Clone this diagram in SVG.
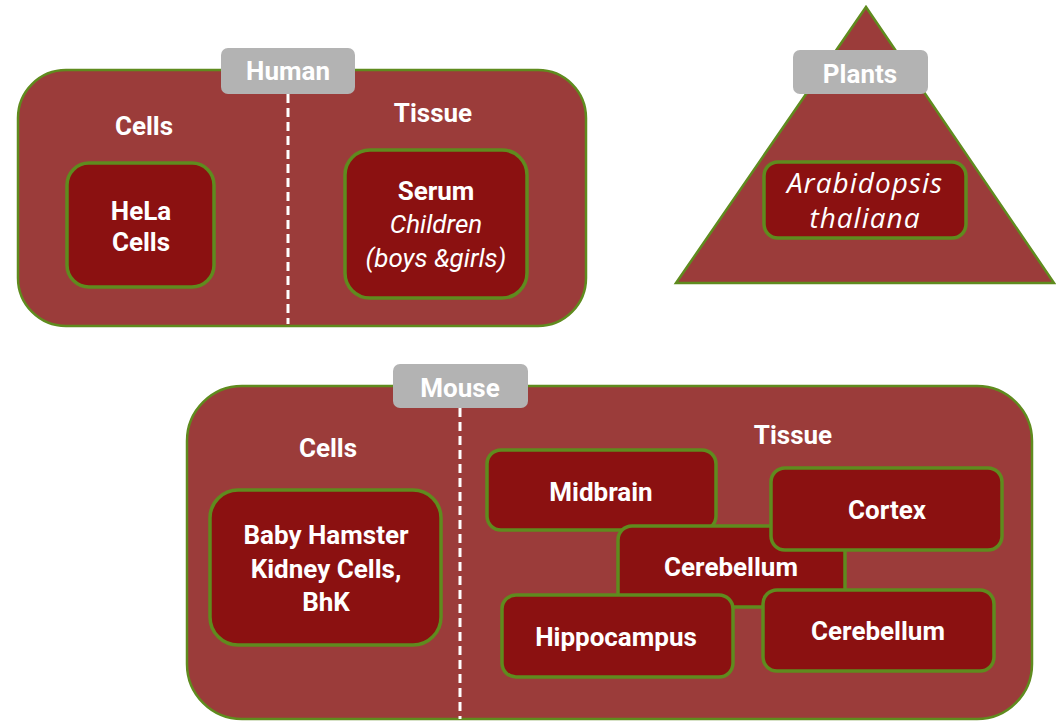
<svg xmlns="http://www.w3.org/2000/svg" width="1056" height="721" viewBox="0 0 1056 721">
<style>
.outer{fill:#9b3c3a;stroke:#5f8b1e;stroke-width:2.5}
.inner{fill:#8b1111;stroke:#5f8b1e;stroke-width:3.5}
.lab{fill:#b3b3b3}
.div{stroke:#ffffff;stroke-width:3;stroke-dasharray:9 5;fill:none}
text{font-family:Roboto,"Liberation Sans",sans-serif;font-weight:bold;font-size:26px;fill:#ffffff;text-anchor:middle}
.it{font-style:italic;font-weight:normal}
.os{font-family:"Open Sans","Noto Sans",sans-serif;font-style:italic;font-weight:normal;font-size:28px;letter-spacing:1px}
</style>
<rect width="1056" height="721" fill="#ffffff"/>
<g id="human">
<rect class="outer" x="18" y="70" width="568" height="256" rx="48"/>
<line class="div" x1="288" y1="94" x2="288" y2="324"/>
<rect class="lab" x="221" y="48" width="134" height="46" rx="7"/>
<text x="288" y="80">Human</text>
<text x="144" y="135">Cells</text>
<text x="433" y="122">Tissue</text>
</g>
<g id="hela">
<rect class="inner" x="67" y="163" width="147" height="124" rx="22"/>
<text x="141" y="220">HeLa</text>
<text x="141" y="251">Cells</text>
</g>
<g id="serum">
<rect class="inner" x="345" y="150" width="182" height="148" rx="25"/>
<text x="436" y="200">Serum</text>
<text class="it" x="436" y="233">Children</text>
<text class="it" x="436" y="267">(boys &amp;girls)</text>
</g>
<g id="plants">
<polygon class="outer" points="866,7 676,283 1054,283"/>
<rect class="lab" x="793" y="50" width="135" height="44" rx="7"/>
<text x="860" y="83">Plants</text>
</g>
<g id="arabidopsis">
<rect class="inner" x="764" y="162" width="202" height="76" rx="14"/>
<text class="os" x="865" y="193">Arabidopsis</text>
<text class="os" x="865" y="228">thaliana</text>
</g>
<g id="mouse">
<rect class="outer" x="187" y="386" width="845" height="333" rx="55"/>
<line class="div" x1="460" y1="408" x2="460" y2="719"/>
<rect class="lab" x="393" y="364" width="135" height="44" rx="7"/>
<text x="460" y="397">Mouse</text>
<text x="328" y="457">Cells</text>
<text x="793" y="444">Tissue</text>
</g>
<g id="bhk">
<rect class="inner" x="210" y="490" width="231" height="155" rx="28"/>
<text x="326" y="544">Baby Hamster</text>
<text x="326" y="578">Kidney Cells,</text>
<text x="326" y="611">BhK</text>
</g>
<g id="midbrain">
<rect class="inner" x="487" y="450" width="229" height="80" rx="14"/>
<text x="601" y="501">Midbrain</text>
</g>
<g id="cerebellum1">
<rect class="inner" x="618" y="526" width="227" height="81" rx="14"/>
<text x="731" y="576">Cerebellum</text>
</g>
<g id="cortex">
<rect class="inner" x="771" y="468" width="231" height="82" rx="14"/>
<text x="887" y="519">Cortex</text>
</g>
<g id="hippocampus">
<rect class="inner" x="502" y="595" width="231" height="82" rx="14"/>
<text x="616" y="646">Hippocampus</text>
</g>
<g id="cerebellum2">
<rect class="inner" x="763" y="590" width="231" height="81" rx="14"/>
<text x="878" y="640">Cerebellum</text>
</g>
<g id="connectors"></g>
</svg>
